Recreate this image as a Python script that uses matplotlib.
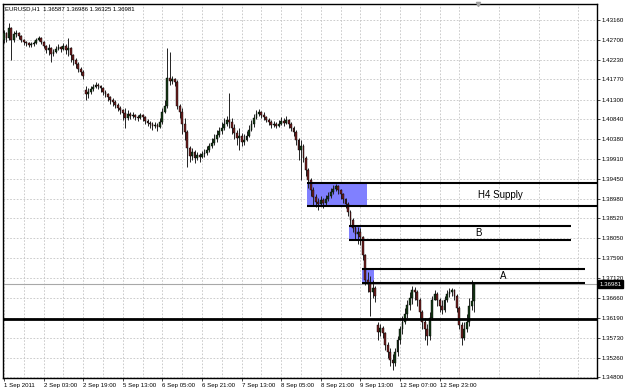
import numpy as np
import matplotlib
matplotlib.use('Agg')
import matplotlib.pyplot as plt
from matplotlib.patches import Rectangle

# EURUSD H1, bar index 0..190 (1 Sep 2011 11:00 -> 13 Sep)
first_open = 1.4269
gap_opens = {33: 1.4152, 151: 1.3603}   # weekend gaps

closes = [
    1.4286, 1.4274, 1.4297, 1.4269, 1.4283, 1.4286, 1.4279, 1.4269, 1.4265, 1.4262,
    1.4258, 1.4260, 1.4262, 1.4269, 1.4274, 1.4265, 1.4255, 1.4246, 1.4251, 1.4237,
    1.4241, 1.4248, 1.4253, 1.4248, 1.4255, 1.4246, 1.4251, 1.4234, 1.4222, 1.4213,
    1.4201, 1.4194, 1.4185, 1.4143, 1.4148, 1.4155, 1.4159, 1.4164, 1.4162, 1.4157,
    1.4148, 1.4143, 1.4136, 1.4129, 1.4124, 1.4117, 1.4110, 1.4106, 1.4099, 1.4087,
    1.4096, 1.4092, 1.4094, 1.4089, 1.4087, 1.4094, 1.4089, 1.4080, 1.4075, 1.4073,
    1.4068, 1.4071, 1.4066, 1.4078, 1.4101, 1.4115, 1.4180, 1.4173, 1.4178, 1.4171,
    1.4115, 1.4101, 1.4073, 1.4054, 1.4017, 1.3998, 1.4008, 1.3994, 1.4001, 1.3996,
    1.4003, 1.4005, 1.4012, 1.4022, 1.4029, 1.4038, 1.4047, 1.4057, 1.4064, 1.4073,
    1.4082, 1.4078, 1.4064, 1.4052, 1.4040, 1.4045, 1.4031, 1.4036, 1.4045, 1.4059,
    1.4073, 1.4087, 1.4096, 1.4101, 1.4094, 1.4089, 1.4082, 1.4078, 1.4071, 1.4073,
    1.4068, 1.4073, 1.4080, 1.4075, 1.4082, 1.4073, 1.4064, 1.4054, 1.4036, 1.4012,
    1.4022, 1.3994, 1.3965, 1.3942, 1.3919, 1.3902, 1.3891, 1.3886, 1.3895, 1.3888,
    1.3898, 1.3905, 1.3914, 1.3921, 1.3928, 1.3919, 1.3909, 1.3898, 1.3886, 1.3867,
    1.3849, 1.3830, 1.3816, 1.3821, 1.3809, 1.3767, 1.3708, 1.3699, 1.3680, 1.3690,
    1.3671, 1.3587, 1.3596, 1.3584, 1.3556, 1.3540, 1.3521, 1.3514, 1.3540, 1.3568,
    1.3592, 1.3610, 1.3629, 1.3650, 1.3666, 1.3685, 1.3680, 1.3662, 1.3634, 1.3610,
    1.3592, 1.3577, 1.3620, 1.3662, 1.3676, 1.3662, 1.3648, 1.3638, 1.3662, 1.3676,
    1.3680, 1.3685, 1.3671, 1.3643, 1.3603, 1.3573, 1.3592, 1.3610, 1.3648, 1.36587,
    1.36981]

highs = [
    1.4293, 1.4288, 1.4309, 1.4300, 1.4290, 1.4293, 1.4288, 1.4281, 1.4272, 1.4267,
    1.4265, 1.4265, 1.4267, 1.4274, 1.4279, 1.4276, 1.4267, 1.4258, 1.4260, 1.4253,
    1.4248, 1.4255, 1.4260, 1.4255, 1.4262, 1.4260, 1.4274, 1.4253, 1.4237, 1.4227,
    1.4218, 1.4206, 1.4199, 1.4162, 1.4157, 1.4162, 1.4166, 1.4171, 1.4169, 1.4164,
    1.4159, 1.4152, 1.4145, 1.4138, 1.4134, 1.4129, 1.4122, 1.4115, 1.4108, 1.4110,
    1.4106, 1.4101, 1.4101, 1.4096, 1.4094, 1.4099, 1.4096, 1.4092, 1.4085, 1.4080,
    1.4078, 1.4078, 1.4075, 1.4087, 1.4110, 1.4129, 1.4251, 1.4241, 1.4185, 1.4180,
    1.4176, 1.4120, 1.4110, 1.4087, 1.4059, 1.4022, 1.4017, 1.4012, 1.4008, 1.4005,
    1.4010, 1.4015, 1.4022, 1.4029, 1.4040, 1.4050, 1.4059, 1.4066, 1.4078, 1.4087,
    1.4092, 1.4145, 1.4087, 1.4073, 1.4059, 1.4064, 1.4052, 1.4050, 1.4057, 1.4071,
    1.4082, 1.4096, 1.4106, 1.4108, 1.4103, 1.4101, 1.4092, 1.4087, 1.4082, 1.4080,
    1.4078, 1.4082, 1.4089, 1.4087, 1.4092, 1.4085, 1.4078, 1.4068, 1.4059, 1.4040,
    1.4036, 1.4026, 1.3998, 1.3970, 1.3947, 1.3926, 1.3909, 1.3900, 1.3905, 1.3900,
    1.3907, 1.3914, 1.3923, 1.3930, 1.3933, 1.3930, 1.3921, 1.3912, 1.3900, 1.3891,
    1.3872, 1.3853, 1.3835, 1.3832, 1.3830, 1.3811, 1.3769, 1.3727, 1.3718, 1.3708,
    1.3694, 1.3610, 1.3606, 1.3601, 1.3587, 1.3563, 1.3549, 1.3535, 1.3549, 1.3577,
    1.3601, 1.3624, 1.3643, 1.3662, 1.3680, 1.3694, 1.3692, 1.3685, 1.3666, 1.3638,
    1.3620, 1.3606, 1.3634, 1.3671, 1.3685, 1.3680, 1.3666, 1.3662, 1.3671, 1.3685,
    1.3690, 1.3690, 1.3687, 1.3676, 1.3648, 1.3610, 1.3610, 1.3629, 1.3666, 1.3708,
    1.36986]

lows = [
    1.4262, 1.4265, 1.4269, 1.4222, 1.4265, 1.4276, 1.4272, 1.4265, 1.4258, 1.4255,
    1.4253, 1.4253, 1.4255, 1.4260, 1.4267, 1.4260, 1.4251, 1.4239, 1.4234, 1.4218,
    1.4232, 1.4239, 1.4246, 1.4241, 1.4246, 1.4237, 1.4232, 1.4218, 1.4211, 1.4204,
    1.4194, 1.4187, 1.4178, 1.4129, 1.4134, 1.4143, 1.4150, 1.4157, 1.4155, 1.4148,
    1.4141, 1.4136, 1.4127, 1.4120, 1.4115, 1.4110, 1.4103, 1.4096, 1.4082, 1.4064,
    1.4082, 1.4085, 1.4087, 1.4082, 1.4080, 1.4085, 1.4080, 1.4073, 1.4068, 1.4064,
    1.4059, 1.4064, 1.4057, 1.4064, 1.4073, 1.4099, 1.4110, 1.4164, 1.4166, 1.4162,
    1.4108, 1.4087, 1.4050, 1.4036, 1.3972, 1.3984, 1.3989, 1.3982, 1.3989, 1.3984,
    1.3994, 1.3996, 1.4001, 1.4008, 1.4017, 1.4024, 1.4031, 1.4043, 1.4050, 1.4059,
    1.4068, 1.4064, 1.4050, 1.4038, 1.4024, 1.4012, 1.4022, 1.4024, 1.4033, 1.4043,
    1.4057, 1.4066, 1.4085, 1.4092, 1.4087, 1.4082, 1.4078, 1.4071, 1.4064, 1.4066,
    1.4064, 1.4066, 1.4071, 1.4068, 1.4073, 1.4064, 1.4057, 1.4045, 1.4024, 1.3989,
    1.3942, 1.3984, 1.3951, 1.3923, 1.3905, 1.3884, 1.3879, 1.3872, 1.3881, 1.3877,
    1.3884, 1.3893, 1.3900, 1.3909, 1.3916, 1.3909, 1.3898, 1.3888, 1.3877, 1.3858,
    1.3837, 1.3821, 1.3802, 1.3792, 1.3790, 1.3755, 1.3697, 1.3680, 1.3624, 1.3666,
    1.3657, 1.3568, 1.3577, 1.3573, 1.3545, 1.3526, 1.3507, 1.3498, 1.3507, 1.3531,
    1.3559, 1.3582, 1.3606, 1.3620, 1.3638, 1.3652, 1.3662, 1.3648, 1.3620, 1.3592,
    1.3568, 1.3556, 1.3568, 1.3615, 1.3662, 1.3648, 1.3634, 1.3629, 1.3634, 1.3657,
    1.3669, 1.3671, 1.3662, 1.3634, 1.3592, 1.3556, 1.3568, 1.3587, 1.3601, 1.3638,
    1.36325]

# price axis / time axis labels
price_ticks = [1.43160, 1.42700, 1.42230, 1.41770, 1.41300, 1.40840, 1.40380,
               1.39910, 1.39450, 1.38980, 1.38520, 1.38050, 1.37590, 1.37120,
               1.36660, 1.36190, 1.35730, 1.35260, 1.34800]
time_labels = ['1 Sep 2011', '2 Sep 03:00', '2 Sep 19:00', '5 Sep 13:00',
               '6 Sep 05:00', '6 Sep 21:00', '7 Sep 13:00', '8 Sep 05:00',
               '8 Sep 21:00', '9 Sep 13:00', '12 Sep 07:00', '12 Sep 23:00']

# zones: name, top, bottom, start bar, box end bar, line end bar
zone_names = ['H4 Supply', 'B', 'A']
zone_top = [1.3935, 1.3835, 1.3734]
zone_bot = [1.3880, 1.3802, 1.3701]
zone_start = [122.4, 139.4, 144.6]
zone_box_end = [146.7, 144.2, 149.5]
zone_line_end = [239.6, 229.0, 234.7]
zone_text_x = [200.4, 191.5, 201.6]
support_level = 1.3617

opens = [first_open] + closes[:-1]
for k, v in gap_opens.items():
    opens[k] = v
o = np.array(opens)
c = np.array(closes)
h = np.array(highs)
l = np.array(lows)
idx = np.arange(len(c))

fig = plt.figure(figsize=(6.25, 3.89), dpi=100)
ax = fig.add_axes([3 / 625, 11 / 389, 594 / 625, 374 / 389])
ax.set_xlim(-0.4, 239.6)
ax.set_ylim(1.34785, 1.43535)

# grid
ax.set_xticks(np.arange(0, 177, 16))
ax.set_xticks(np.arange(8, 240, 16), minor=True)
ax.set_xticklabels(time_labels)
ax.set_yticks(price_ticks)
ax.set_yticklabels(['%.5f' % p for p in price_ticks])
ax.grid(True, which='both', color='#c4c4c4', linestyle=(0, (2, 2)), linewidth=0.6)
ax.set_axisbelow(True)

# zones
for name, top, bot, x0, xb, xl, tx in zip(zone_names, zone_top, zone_bot, zone_start,
                                          zone_box_end, zone_line_end, zone_text_x):
    ax.add_patch(Rectangle((x0, bot), xb - x0, top - bot, facecolor='#8080ff',
                           edgecolor='none', zorder=1))
    ax.hlines([top, bot], x0, xl, colors='black', linewidth=1.5, zorder=4)
    ax.text(tx, (top + bot) / 2, name, ha='center', va='center', fontsize=7,
            family=['Liberation Sans', 'DejaVu Sans'], zorder=5)

ax.axhline(support_level, color='black', linewidth=2.0, zorder=4)
ax.axhline(closes[-1], color='#a8a8a8', linewidth=0.8, zorder=2)

# candles
bull = c >= o
ax.vlines(idx, l, h, colors='#222222', linewidth=0.7, zorder=3)
body_lo = np.minimum(o, c)
body_h = np.maximum(np.abs(c - o), 0.00008)
ax.bar(idx[bull], body_h[bull], bottom=body_lo[bull], width=0.75,
       color='#163a16', edgecolor='black', linewidth=0.3, zorder=3)
ax.bar(idx[~bull], body_h[~bull], bottom=body_lo[~bull], width=0.75,
       color='#6e1f1f', edgecolor='black', linewidth=0.3, zorder=3)

# axes styling (MT4 look)
ax.yaxis.tick_right()
for s in ax.spines.values():
    s.set_color('black')
    s.set_linewidth(1.0)
ax.tick_params(axis='y', which='major', length=2, width=0.5, pad=1.5,
               labelsize=4.4, direction='out')
ax.tick_params(axis='x', which='major', length=2, width=0.5, pad=1.5,
               labelsize=4.4, direction='out')
ax.tick_params(axis='x', which='minor', length=0)
for lab in ax.get_xticklabels() + ax.get_yticklabels():
    lab.set_family(['Liberation Sans', 'DejaVu Sans'])
for lab in ax.get_xticklabels():
    lab.set_horizontalalignment('left')

# current price label
ax.text(1.004, closes[-1], '%.5f' % closes[-1], transform=ax.get_yaxis_transform(),
        color='white', fontsize=4.4, va='center', ha='left',
        family=['Liberation Sans', 'DejaVu Sans'],
        bbox=dict(boxstyle='square,pad=0.25', facecolor='black', edgecolor='black'))

# header
ax.text(0.0035, 0.986, 'EURUSD,H1  1.36587 1.36986 1.36325 1.36981',
        transform=ax.transAxes, fontsize=4.3, va='center', ha='left',
        family=['Liberation Sans', 'DejaVu Sans'])

# chart shift marker
ax.plot([191.5], [1.43535], marker='v', markersize=3, color='#a0a0a0',
        clip_on=False, zorder=6)

fig.savefig('out.png', dpi=100)
